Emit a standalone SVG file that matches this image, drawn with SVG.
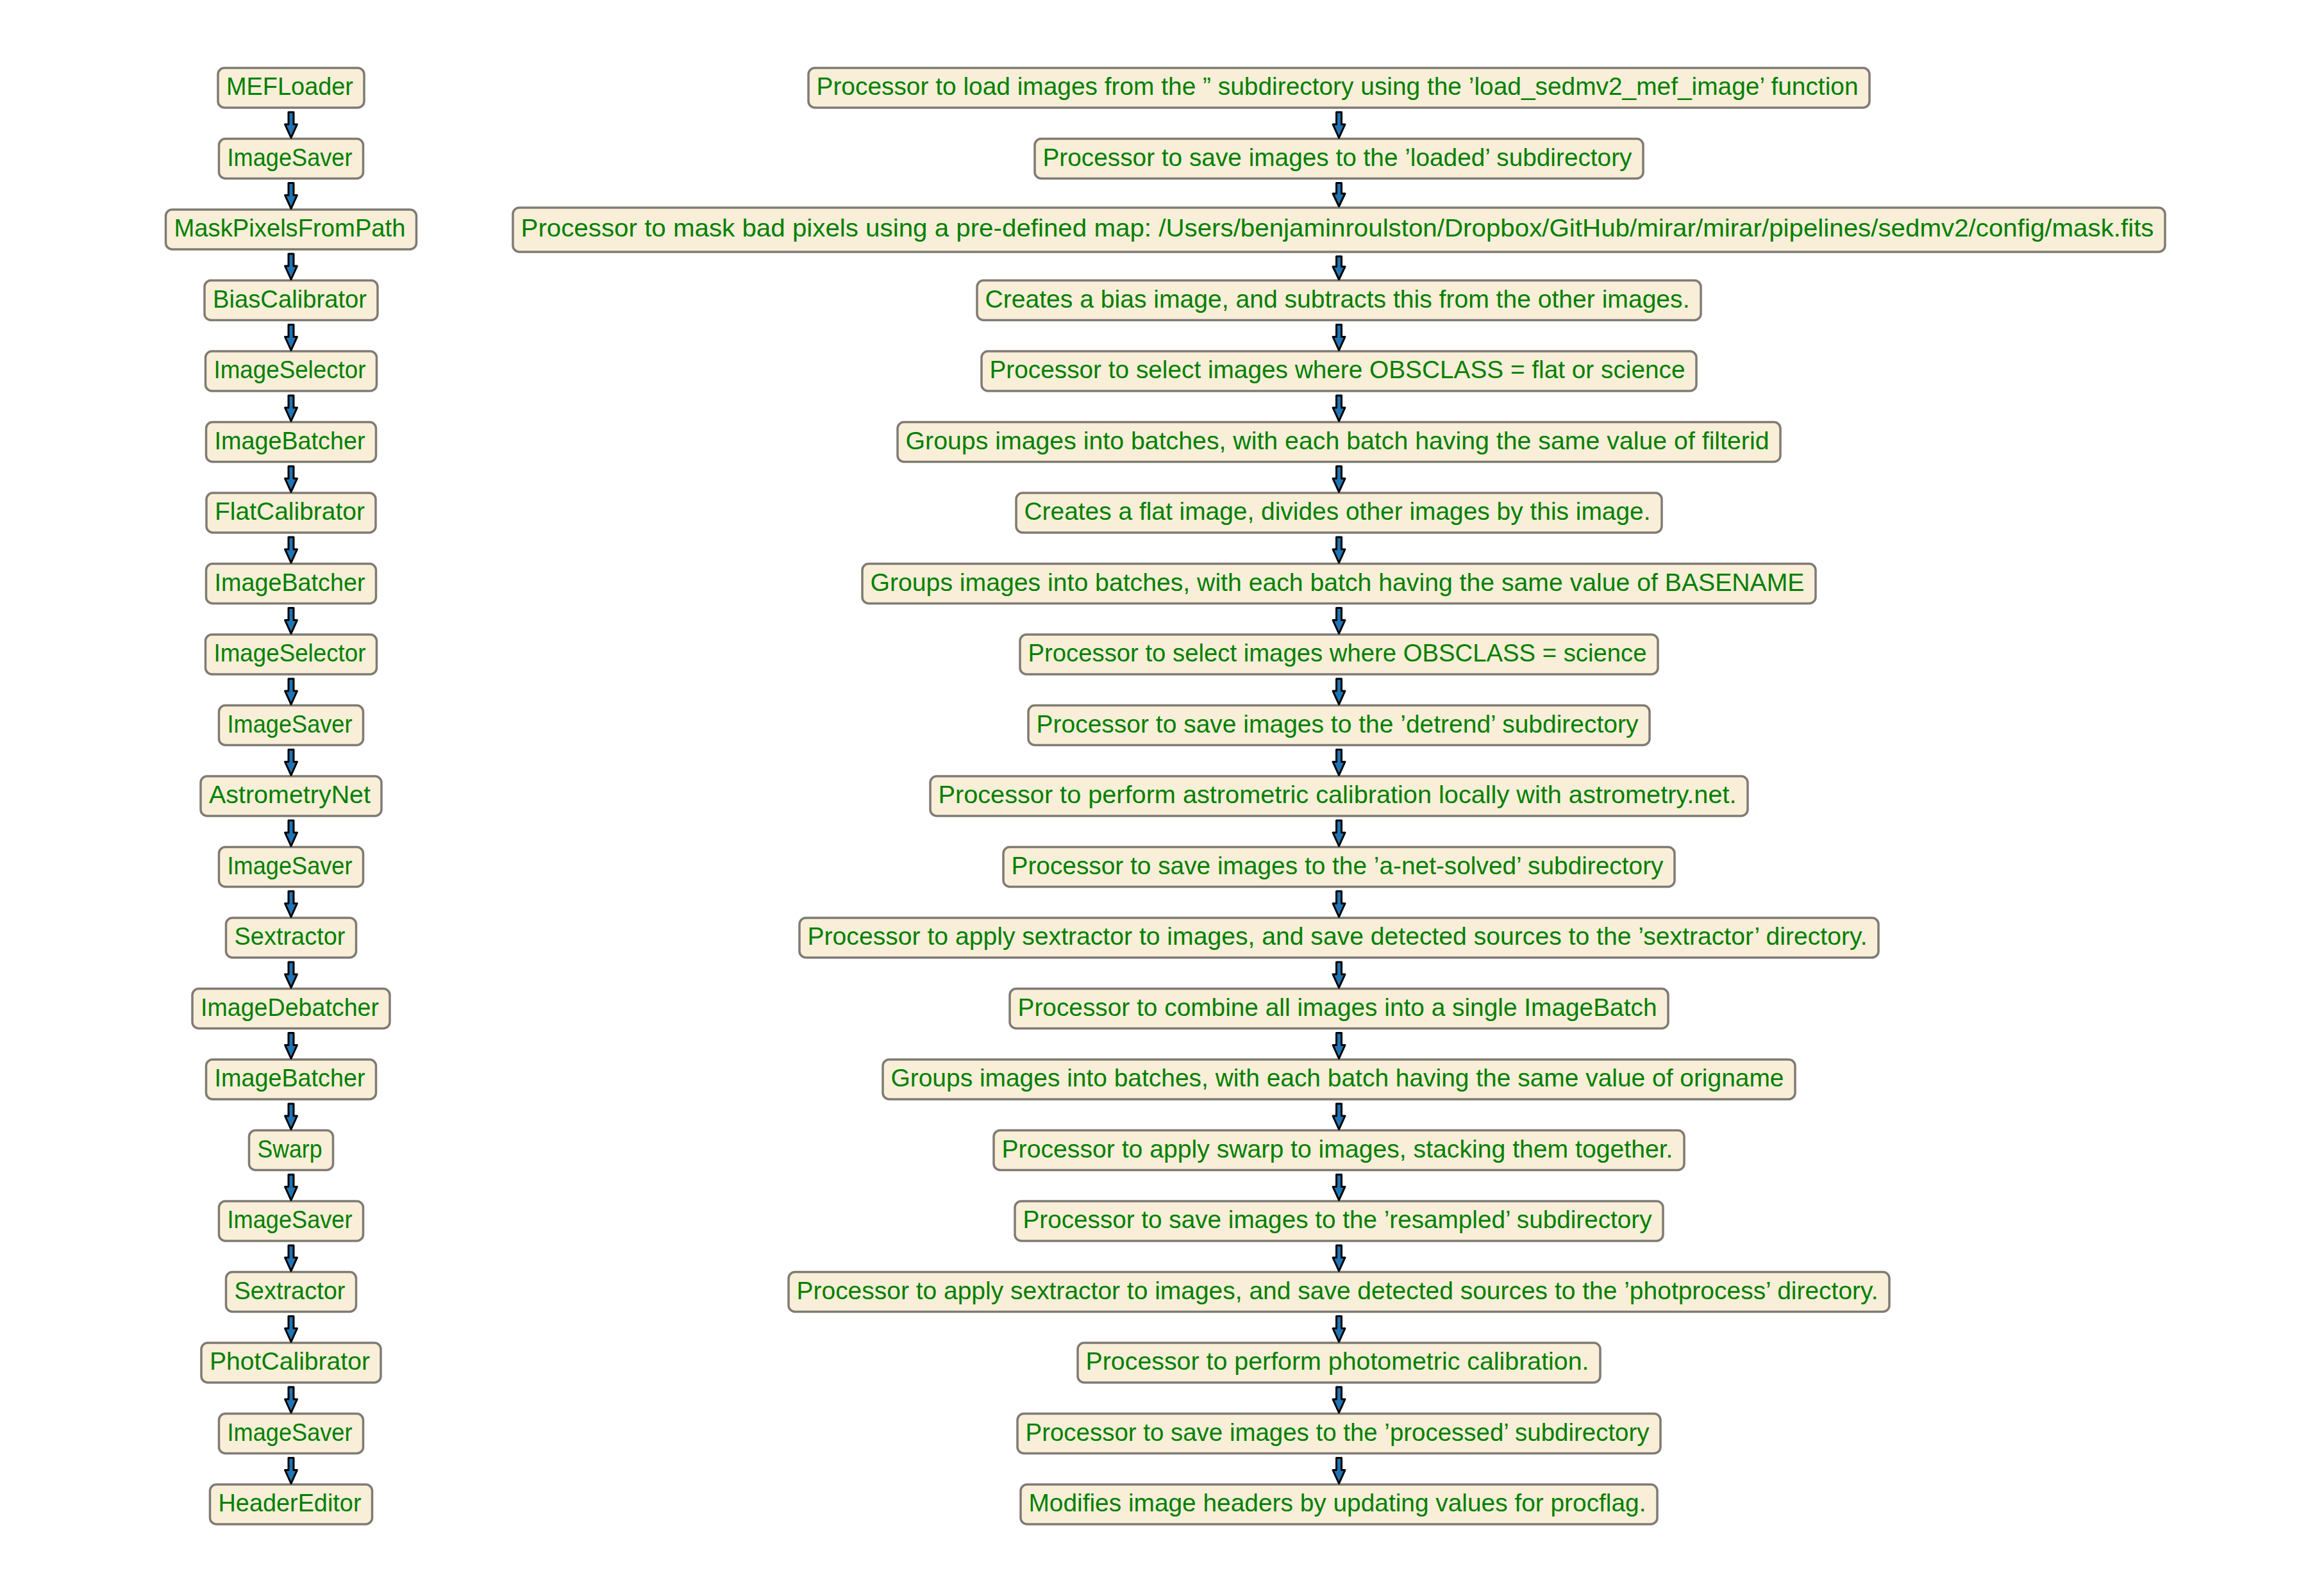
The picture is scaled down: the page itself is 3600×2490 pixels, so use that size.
<svg xmlns="http://www.w3.org/2000/svg" width="3600" height="2490" viewBox="0 0 3600 2490">
<style>
.box{fill:#f9eed8;stroke:#7f7b74;stroke-width:3.5}
.t{font-family:"Liberation Sans",Arial,sans-serif;font-size:39px;fill:#008000;text-anchor:middle}
.ar{fill:#1f74b4;stroke:#000;stroke-width:3;stroke-linejoin:round}
</style>
<rect width="3600" height="2490" fill="#fff"/>
<g id="left-nodes">
<g id="L0"><rect class="box" x="340" y="106" width="228" height="62" rx="10"/><text class="t" x="452" y="148" textLength="198" lengthAdjust="spacingAndGlyphs">MEFLoader</text></g>
<g id="L1"><rect class="box" x="341.5" y="216.5" width="225" height="62" rx="10"/><text class="t" x="452" y="258.5" textLength="195" lengthAdjust="spacingAndGlyphs">ImageSaver</text></g>
<g id="L2"><rect class="box" x="258.5" y="327" width="391" height="62" rx="10"/><text class="t" x="452" y="369" textLength="361" lengthAdjust="spacingAndGlyphs">MaskPixelsFromPath</text></g>
<g id="L3"><rect class="box" x="319" y="437.5" width="270" height="62" rx="10"/><text class="t" x="452" y="479.5" textLength="240" lengthAdjust="spacingAndGlyphs">BiasCalibrator</text></g>
<g id="L4"><rect class="box" x="320.5" y="548" width="267" height="62" rx="10"/><text class="t" x="452" y="590" textLength="237" lengthAdjust="spacingAndGlyphs">ImageSelector</text></g>
<g id="L5"><rect class="box" x="321.5" y="658.5" width="265" height="62" rx="10"/><text class="t" x="452" y="700.5" textLength="235" lengthAdjust="spacingAndGlyphs">ImageBatcher</text></g>
<g id="L6"><rect class="box" x="322" y="769" width="264" height="62" rx="10"/><text class="t" x="452" y="811" textLength="234" lengthAdjust="spacingAndGlyphs">FlatCalibrator</text></g>
<g id="L7"><rect class="box" x="321.5" y="879.5" width="265" height="62" rx="10"/><text class="t" x="452" y="921.5" textLength="235" lengthAdjust="spacingAndGlyphs">ImageBatcher</text></g>
<g id="L8"><rect class="box" x="320.5" y="990" width="267" height="62" rx="10"/><text class="t" x="452" y="1032" textLength="237" lengthAdjust="spacingAndGlyphs">ImageSelector</text></g>
<g id="L9"><rect class="box" x="341.5" y="1100.5" width="225" height="62" rx="10"/><text class="t" x="452" y="1142.5" textLength="195" lengthAdjust="spacingAndGlyphs">ImageSaver</text></g>
<g id="L10"><rect class="box" x="313" y="1211" width="282" height="62" rx="10"/><text class="t" x="452" y="1253" textLength="252" lengthAdjust="spacingAndGlyphs">AstrometryNet</text></g>
<g id="L11"><rect class="box" x="341.5" y="1321.5" width="225" height="62" rx="10"/><text class="t" x="452" y="1363.5" textLength="195" lengthAdjust="spacingAndGlyphs">ImageSaver</text></g>
<g id="L12"><rect class="box" x="352.5" y="1432" width="203" height="62" rx="10"/><text class="t" x="452" y="1474" textLength="173" lengthAdjust="spacingAndGlyphs">Sextractor</text></g>
<g id="L13"><rect class="box" x="300" y="1542.5" width="308" height="62" rx="10"/><text class="t" x="452" y="1584.5" textLength="278" lengthAdjust="spacingAndGlyphs">ImageDebatcher</text></g>
<g id="L14"><rect class="box" x="321.5" y="1653" width="265" height="62" rx="10"/><text class="t" x="452" y="1695" textLength="235" lengthAdjust="spacingAndGlyphs">ImageBatcher</text></g>
<g id="L15"><rect class="box" x="388.5" y="1763.5" width="131" height="62" rx="10"/><text class="t" x="452" y="1805.5" textLength="101" lengthAdjust="spacingAndGlyphs">Swarp</text></g>
<g id="L16"><rect class="box" x="341.5" y="1874" width="225" height="62" rx="10"/><text class="t" x="452" y="1916" textLength="195" lengthAdjust="spacingAndGlyphs">ImageSaver</text></g>
<g id="L17"><rect class="box" x="352.5" y="1984.5" width="203" height="62" rx="10"/><text class="t" x="452" y="2026.5" textLength="173" lengthAdjust="spacingAndGlyphs">Sextractor</text></g>
<g id="L18"><rect class="box" x="314" y="2095" width="280" height="62" rx="10"/><text class="t" x="452" y="2137" textLength="250" lengthAdjust="spacingAndGlyphs">PhotCalibrator</text></g>
<g id="L19"><rect class="box" x="341.5" y="2205.5" width="225" height="62" rx="10"/><text class="t" x="452" y="2247.5" textLength="195" lengthAdjust="spacingAndGlyphs">ImageSaver</text></g>
<g id="L20"><rect class="box" x="327.5" y="2316" width="253" height="62" rx="10"/><text class="t" x="452" y="2358" textLength="223" lengthAdjust="spacingAndGlyphs">HeaderEditor</text></g>
</g>
<g id="right-nodes">
<g id="R0"><rect class="box" x="1261" y="106" width="1655" height="62" rx="10"/><text class="t" x="2086" y="148" textLength="1625" lengthAdjust="spacingAndGlyphs">Processor to load images from the ” subdirectory using the ’load_sedmv2_mef_image’ function</text></g>
<g id="R1"><rect class="box" x="1614" y="216.5" width="949" height="62" rx="10"/><text class="t" x="2086" y="258.5" textLength="919" lengthAdjust="spacingAndGlyphs">Processor to save images to the ’loaded’ subdirectory</text></g>
<g id="R2"><rect class="box" x="800" y="324" width="2577" height="69" rx="10"/><text class="t" x="2086" y="369" textLength="2547" lengthAdjust="spacingAndGlyphs">Processor to mask bad pixels using a pre-defined map: /Users/benjaminroulston/Dropbox/GitHub/mirar/mirar/pipelines/sedmv2/config/mask.fits</text></g>
<g id="R3"><rect class="box" x="1524" y="437.5" width="1129" height="62" rx="10"/><text class="t" x="2086" y="479.5" textLength="1099" lengthAdjust="spacingAndGlyphs">Creates a bias image, and subtracts this from the other images.</text></g>
<g id="R4"><rect class="box" x="1531" y="548" width="1115" height="62" rx="10"/><text class="t" x="2086" y="590" textLength="1085" lengthAdjust="spacingAndGlyphs">Processor to select images where OBSCLASS = flat or science</text></g>
<g id="R5"><rect class="box" x="1400" y="658.5" width="1377" height="62" rx="10"/><text class="t" x="2086" y="700.5" textLength="1347" lengthAdjust="spacingAndGlyphs">Groups images into batches, with each batch having the same value of filterid</text></g>
<g id="R6"><rect class="box" x="1585" y="769" width="1007" height="62" rx="10"/><text class="t" x="2086" y="811" textLength="977" lengthAdjust="spacingAndGlyphs">Creates a flat image, divides other images by this image.</text></g>
<g id="R7"><rect class="box" x="1345" y="879.5" width="1487" height="62" rx="10"/><text class="t" x="2086" y="921.5" textLength="1457" lengthAdjust="spacingAndGlyphs">Groups images into batches, with each batch having the same value of BASENAME</text></g>
<g id="R8"><rect class="box" x="1591" y="990" width="995" height="62" rx="10"/><text class="t" x="2086" y="1032" textLength="965" lengthAdjust="spacingAndGlyphs">Processor to select images where OBSCLASS = science</text></g>
<g id="R9"><rect class="box" x="1604" y="1100.5" width="969" height="62" rx="10"/><text class="t" x="2086" y="1142.5" textLength="939" lengthAdjust="spacingAndGlyphs">Processor to save images to the ’detrend’ subdirectory</text></g>
<g id="R10"><rect class="box" x="1451" y="1211" width="1275" height="62" rx="10"/><text class="t" x="2086" y="1253" textLength="1245" lengthAdjust="spacingAndGlyphs">Processor to perform astrometric calibration locally with astrometry.net.</text></g>
<g id="R11"><rect class="box" x="1565" y="1321.5" width="1047" height="62" rx="10"/><text class="t" x="2086" y="1363.5" textLength="1017" lengthAdjust="spacingAndGlyphs">Processor to save images to the ’a-net-solved’ subdirectory</text></g>
<g id="R12"><rect class="box" x="1247" y="1432" width="1683" height="62" rx="10"/><text class="t" x="2086" y="1474" textLength="1653" lengthAdjust="spacingAndGlyphs">Processor to apply sextractor to images, and save detected sources to the ’sextractor’ directory.</text></g>
<g id="R13"><rect class="box" x="1575" y="1542.5" width="1027" height="62" rx="10"/><text class="t" x="2086" y="1584.5" textLength="997" lengthAdjust="spacingAndGlyphs">Processor to combine all images into a single ImageBatch</text></g>
<g id="R14"><rect class="box" x="1377" y="1653" width="1423" height="62" rx="10"/><text class="t" x="2086" y="1695" textLength="1393" lengthAdjust="spacingAndGlyphs">Groups images into batches, with each batch having the same value of origname</text></g>
<g id="R15"><rect class="box" x="1550" y="1763.5" width="1077" height="62" rx="10"/><text class="t" x="2086" y="1805.5" textLength="1047" lengthAdjust="spacingAndGlyphs">Processor to apply swarp to images, stacking them together.</text></g>
<g id="R16"><rect class="box" x="1583" y="1874" width="1011" height="62" rx="10"/><text class="t" x="2086" y="1916" textLength="981" lengthAdjust="spacingAndGlyphs">Processor to save images to the ’resampled’ subdirectory</text></g>
<g id="R17"><rect class="box" x="1230" y="1984.5" width="1717" height="62" rx="10"/><text class="t" x="2086" y="2026.5" textLength="1687" lengthAdjust="spacingAndGlyphs">Processor to apply sextractor to images, and save detected sources to the ’photprocess’ directory.</text></g>
<g id="R18"><rect class="box" x="1681" y="2095" width="815" height="62" rx="10"/><text class="t" x="2086" y="2137" textLength="785" lengthAdjust="spacingAndGlyphs">Processor to perform photometric calibration.</text></g>
<g id="R19"><rect class="box" x="1587" y="2205.5" width="1003" height="62" rx="10"/><text class="t" x="2086" y="2247.5" textLength="973" lengthAdjust="spacingAndGlyphs">Processor to save images to the ’processed’ subdirectory</text></g>
<g id="R20"><rect class="box" x="1592" y="2316" width="993" height="62" rx="10"/><text class="t" x="2086" y="2358" textLength="963" lengthAdjust="spacingAndGlyphs">Modifies image headers by updating values for procflag.</text></g>
</g>
<g id="connectors">
<g id="left-arrows">
<path class="ar" d="M450,175H458V194H463.5L454,215L444.5,194H450Z"/>
<path class="ar" d="M450,285.5H458V304.5H463.5L454,325.5L444.5,304.5H450Z"/>
<path class="ar" d="M450,396H458V415H463.5L454,436L444.5,415H450Z"/>
<path class="ar" d="M450,506.5H458V525.5H463.5L454,546.5L444.5,525.5H450Z"/>
<path class="ar" d="M450,617H458V636H463.5L454,657L444.5,636H450Z"/>
<path class="ar" d="M450,727.5H458V746.5H463.5L454,767.5L444.5,746.5H450Z"/>
<path class="ar" d="M450,838H458V857H463.5L454,878L444.5,857H450Z"/>
<path class="ar" d="M450,948.5H458V967.5H463.5L454,988.5L444.5,967.5H450Z"/>
<path class="ar" d="M450,1059H458V1078H463.5L454,1099L444.5,1078H450Z"/>
<path class="ar" d="M450,1169.5H458V1188.5H463.5L454,1209.5L444.5,1188.5H450Z"/>
<path class="ar" d="M450,1280H458V1299H463.5L454,1320L444.5,1299H450Z"/>
<path class="ar" d="M450,1390.5H458V1409.5H463.5L454,1430.5L444.5,1409.5H450Z"/>
<path class="ar" d="M450,1501H458V1520H463.5L454,1541L444.5,1520H450Z"/>
<path class="ar" d="M450,1611.5H458V1630.5H463.5L454,1651.5L444.5,1630.5H450Z"/>
<path class="ar" d="M450,1722H458V1741H463.5L454,1762L444.5,1741H450Z"/>
<path class="ar" d="M450,1832.5H458V1851.5H463.5L454,1872.5L444.5,1851.5H450Z"/>
<path class="ar" d="M450,1943H458V1962H463.5L454,1983L444.5,1962H450Z"/>
<path class="ar" d="M450,2053.5H458V2072.5H463.5L454,2093.5L444.5,2072.5H450Z"/>
<path class="ar" d="M450,2164H458V2183H463.5L454,2204L444.5,2183H450Z"/>
<path class="ar" d="M450,2274.5H458V2293.5H463.5L454,2314.5L444.5,2293.5H450Z"/>
</g>
<g id="right-arrows">
<path class="ar" d="M2084.5,175H2092.5V194H2098L2088.5,215L2079,194H2084.5Z"/>
<path class="ar" d="M2084.5,285.5H2092.5V302H2098L2088.5,322L2079,302H2084.5Z"/>
<path class="ar" d="M2084.5,400H2092.5V416H2098L2088.5,436L2079,416H2084.5Z"/>
<path class="ar" d="M2084.5,506.5H2092.5V525.5H2098L2088.5,546.5L2079,525.5H2084.5Z"/>
<path class="ar" d="M2084.5,617H2092.5V636H2098L2088.5,657L2079,636H2084.5Z"/>
<path class="ar" d="M2084.5,727.5H2092.5V746.5H2098L2088.5,767.5L2079,746.5H2084.5Z"/>
<path class="ar" d="M2084.5,838H2092.5V857H2098L2088.5,878L2079,857H2084.5Z"/>
<path class="ar" d="M2084.5,948.5H2092.5V967.5H2098L2088.5,988.5L2079,967.5H2084.5Z"/>
<path class="ar" d="M2084.5,1059H2092.5V1078H2098L2088.5,1099L2079,1078H2084.5Z"/>
<path class="ar" d="M2084.5,1169.5H2092.5V1188.5H2098L2088.5,1209.5L2079,1188.5H2084.5Z"/>
<path class="ar" d="M2084.5,1280H2092.5V1299H2098L2088.5,1320L2079,1299H2084.5Z"/>
<path class="ar" d="M2084.5,1390.5H2092.5V1409.5H2098L2088.5,1430.5L2079,1409.5H2084.5Z"/>
<path class="ar" d="M2084.5,1501H2092.5V1520H2098L2088.5,1541L2079,1520H2084.5Z"/>
<path class="ar" d="M2084.5,1611.5H2092.5V1630.5H2098L2088.5,1651.5L2079,1630.5H2084.5Z"/>
<path class="ar" d="M2084.5,1722H2092.5V1741H2098L2088.5,1762L2079,1741H2084.5Z"/>
<path class="ar" d="M2084.5,1832.5H2092.5V1851.5H2098L2088.5,1872.5L2079,1851.5H2084.5Z"/>
<path class="ar" d="M2084.5,1943H2092.5V1962H2098L2088.5,1983L2079,1962H2084.5Z"/>
<path class="ar" d="M2084.5,2053.5H2092.5V2072.5H2098L2088.5,2093.5L2079,2072.5H2084.5Z"/>
<path class="ar" d="M2084.5,2164H2092.5V2183H2098L2088.5,2204L2079,2183H2084.5Z"/>
<path class="ar" d="M2084.5,2274.5H2092.5V2293.5H2098L2088.5,2314.5L2079,2293.5H2084.5Z"/>
</g>
</g>
</svg>
